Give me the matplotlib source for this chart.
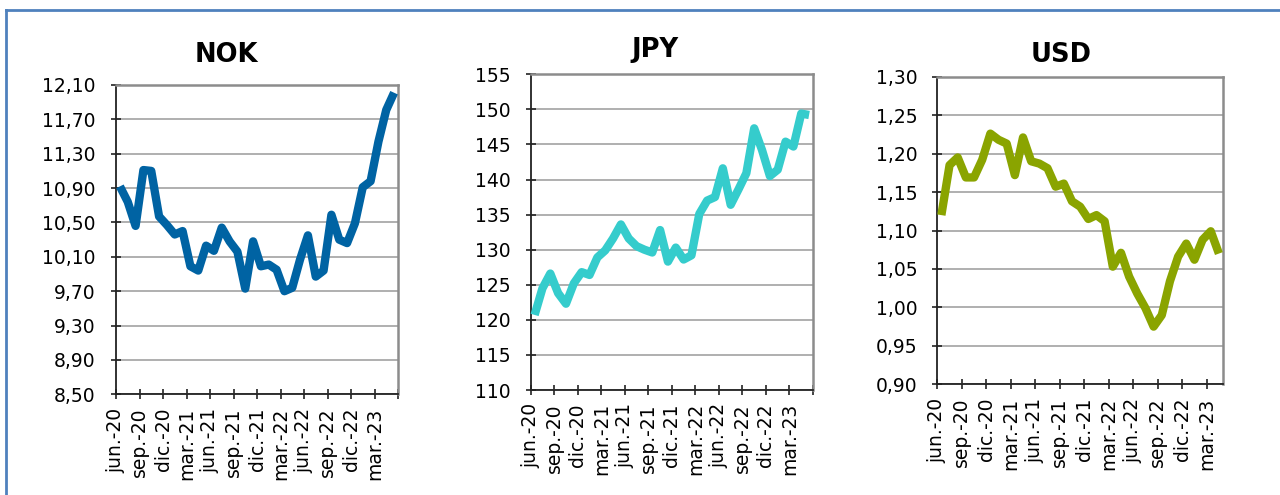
import matplotlib
matplotlib.use("Agg")
import matplotlib.pyplot as plt
from matplotlib import font_manager as fm
from matplotlib.lines import Line2D
import numpy as np

# ---- data ----
tick_labels = ["jun.-20", "sep.-20", "dic.-20", "mar.-21", "jun.-21", "sep.-21",
               "dic.-21", "mar.-22", "jun.-22", "sep.-22", "dic.-22", "mar.-23"]

nok = [10.92, 10.74, 10.46, 11.11, 11.10, 10.57, 10.47, 10.36, 10.40, 9.99,
       9.94, 10.23, 10.17, 10.44, 10.28, 10.16, 9.73, 10.28, 9.99, 10.01,
       9.95, 9.70, 9.74, 10.07, 10.35, 9.87, 9.94, 10.59, 10.30, 10.26,
       10.49, 10.91, 10.98, 11.44, 11.81, 12.01]

jpy = [120.7, 124.5, 126.6, 123.8, 122.3, 125.2, 126.8, 126.4, 128.9, 129.9,
       131.6, 133.6, 131.6, 130.5, 130.0, 129.6, 132.8, 128.3, 130.3, 128.6,
       129.2, 135.1, 137.0, 137.5, 141.6, 136.4, 138.6, 140.9, 147.3, 144.2,
       140.5, 141.4, 145.4, 144.7, 149.4, 149.2]

usd = [1.120, 1.185, 1.195, 1.169, 1.169, 1.192, 1.226, 1.218, 1.213, 1.172,
       1.221, 1.190, 1.187, 1.181, 1.157, 1.161, 1.138, 1.131, 1.115, 1.120,
       1.112, 1.053, 1.071, 1.040, 1.018, 0.999, 0.975, 0.990, 1.034, 1.066,
       1.083, 1.062, 1.088, 1.099, 1.070]

nok_yticks = [8.5, 8.9, 9.3, 9.7, 10.1, 10.5, 10.9, 11.3, 11.7, 12.1]
jpy_yticks = [110, 115, 120, 125, 130, 135, 140, 145, 150, 155]
usd_yticks = [0.90, 0.95, 1.00, 1.05, 1.10, 1.15, 1.20, 1.25, 1.30]

# ---- fonts ----
names = {f.name for f in fm.fontManager.ttflist}
title_font = "DejaVu Sans"
for cand in ["DejaVu Sans Condensed", "Liberation Sans Narrow"]:
    if cand in names:
        title_font = cand
        break

plt.rcParams['font.family'] = ['DejaVu Sans']

W, H = 1280, 495
fig = plt.figure(figsize=(W / 100, H / 100), dpi=100)


def rect(l, r, t, b):
    return [l / W, (H - b) / H, (r - l) / W, (b - t) / H]


panels = [
    dict(title="NOK", data=nok, color="#0063A3", yticks=nok_yticks, fmt="{:.2f}",
         box=rect(116, 398, 85, 394.3), ncat=36, lastx=36, tpos=(226, 55)),
    dict(title="JPY", data=jpy, color="#35CCCC", yticks=jpy_yticks, fmt="{:.0f}",
         box=rect(530.7, 813, 74.3, 390), ncat=36, lastx=36, tpos=(655, 50)),
    dict(title="USD", data=usd, color="#8AA400", yticks=usd_yticks, fmt="{:.2f}",
         box=rect(937.3, 1223, 76.7, 384.3), ncat=35, lastx=33, tpos=(1061, 55)),
]

for p in panels:
    ax = fig.add_axes(p["box"])
    vals = p["data"]
    x = np.arange(len(vals)) + 0.5
    ax.plot(x, vals, color=p["color"], lw=6.0, solid_joinstyle="round",
            solid_capstyle="butt", zorder=3, clip_on=False)
    ax.set_xlim(0, p["ncat"])
    ax.set_ylim(p["yticks"][0], p["yticks"][-1])
    ax.set_yticks(p["yticks"])
    ax.set_yticklabels([p["fmt"].format(v).replace(".", ",") for v in p["yticks"]])
    xt = list(range(0, p["lastx"] + 1, 3))
    ax.set_xticks(xt)
    ax.set_xticklabels(tick_labels + [""] * (len(xt) - len(tick_labels)),
                       rotation=90, ha="center", va="top")
    ax.tick_params(axis="both", direction="inout", length=7, width=1.2,
                   color="#222222", labelsize=13.5, labelcolor="black")
    ax.tick_params(axis="y", pad=11)
    ax.tick_params(axis="x", pad=6)
    ax.grid(axis="y", color="#9a9a9a", lw=1.1, zorder=1)
    ax.set_axisbelow(True)
    for s in ["left", "bottom"]:
        ax.spines[s].set_color("#222222")
        ax.spines[s].set_linewidth(1.3)
    for s in ["top", "right"]:
        ax.spines[s].set_color("#8c8c8c")
        ax.spines[s].set_linewidth(1.8)
    fig.text(p["tpos"][0] / W, 1 - p["tpos"][1] / H, p["title"],
             ha="center", va="center", fontsize=18.5, fontweight="bold",
             family=title_font)

# blue frame (top and left edges)
fig.add_artist(Line2D([6 / W, 6 / W], [0, 1 - 10 / H], transform=fig.transFigure,
                      color="#4F81BD", lw=2.0))
fig.add_artist(Line2D([6 / W, 1], [1 - 10 / H, 1 - 10 / H], transform=fig.transFigure,
                      color="#4F81BD", lw=2.0))

fig.savefig("out.png", dpi=100)
